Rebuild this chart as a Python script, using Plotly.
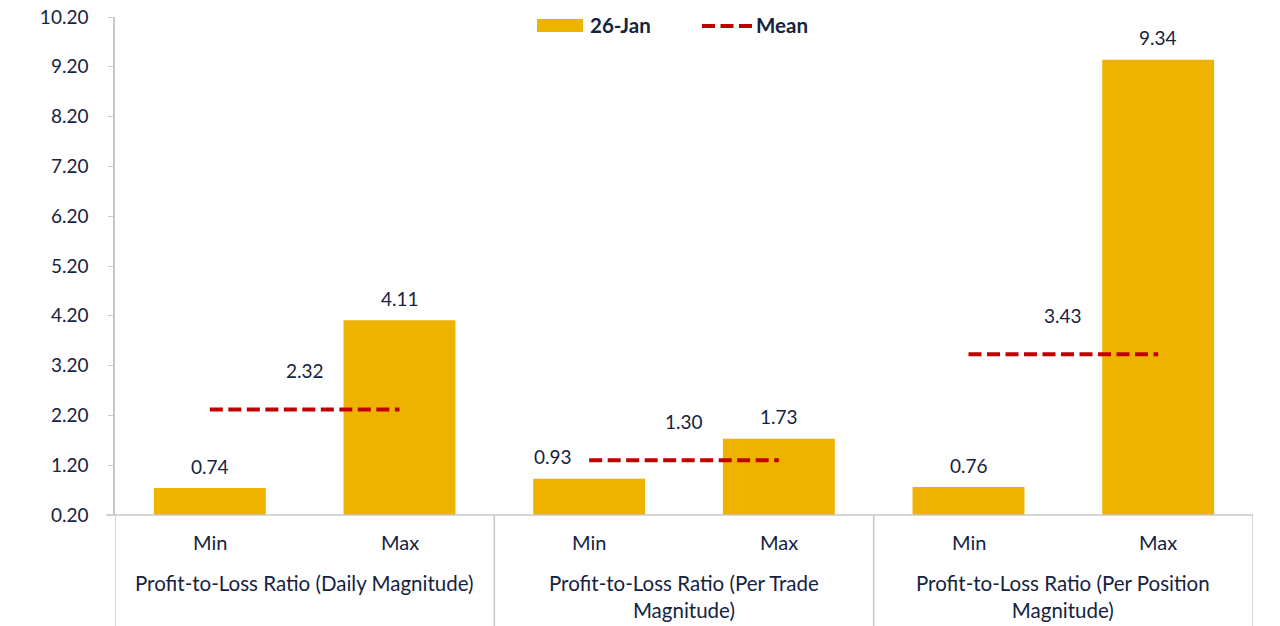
import plotly.graph_objects as go

groups = ["Profit-to-Loss Ratio (Daily Magnitude)",
          "Profit-to-Loss Ratio (Per Trade<br>Magnitude)",
          "Profit-to-Loss Ratio (Per Position<br>Magnitude)"]
sub_labels = ["Min", "Max"]
bar_values = [0.74, 4.11, 0.93, 1.73, 0.76, 9.34]
mean_values = [2.32, 1.30, 3.43]
y_ticks = [0.2 + i for i in range(11)]

FONT = "Lato"
NAVY = "#15233F"
GOLD = "#EEB200"
RED = "#C00000"
GRID = "#C8C8C8"
DASH = "13px,5.5px"

# page body has an 8px margin; compensate so the plot lands where the reference has it
OFF = 8
W, HT = 1280, 626
ML, MT = 115 - OFF, 17 - OFF
PW, H = 1253 - 115, 515 - 17
MR, MB = W - ML - PW, HT - MT - H


def px_x(p):
    return (p - OFF - ML) / PW


def px_y(p):
    return (MT + H - (p - OFF)) / H


label_xshift = [0, 0, -36, 0, 0, 0]

xpos = list(range(len(bar_values)))
fig = go.Figure()
fig.add_trace(go.Bar(
    x=xpos, y=bar_values, base=0, width=0.59, name="26-Jan",
    marker=dict(color=GOLD, line=dict(width=0)), showlegend=False,
))
for i, v in enumerate(bar_values):
    fig.add_annotation(x=i, y=v, xref="x", yref="y", text=f"{v:.2f}",
                       showarrow=False, yshift=22, xshift=label_xshift[i],
                       font=dict(size=19, color=NAVY, family=FONT))
for i, m in enumerate(mean_values):
    fig.add_trace(go.Scatter(
        x=[2 * i, 2 * i + 1], y=[m, m], mode="lines", name="Mean",
        line=dict(color=RED, width=4, dash=DASH), showlegend=False,
    ))
    fig.add_annotation(x=2 * i + 0.5, y=m, xref="x", yref="y", text=f"{m:.2f}",
                       showarrow=False, yshift=39,
                       font=dict(size=19, color=NAVY, family=FONT))

for i, lab in enumerate(sub_labels * 3):
    fig.add_annotation(x=i, y=-27 / H, xref="x", yref="paper", text=lab,
                       showarrow=False, yanchor="middle",
                       font=dict(size=20, color=NAVY, family=FONT))
for i, g in enumerate(groups):
    fig.add_annotation(x=2 * i + 0.5, y=-54 / H, xref="x", yref="paper", text=g,
                       showarrow=False, yanchor="top",
                       font=dict(size=20.5, color=NAVY, family=FONT))

# axis line and group separators
fig.add_shape(type="line", xref="paper", yref="paper", x0=px_x(106), x1=1, y0=0, y1=0,
              line=dict(color=GRID, width=1.5))
for xs in [-0.5, 1.5, 3.5, 5.5]:
    fig.add_shape(type="line", xref="x", yref="paper", x0=xs, x1=xs, y0=0, y1=-(MB - 2) / H,
                  line=dict(color=GRID, width=1.5))

# legend (drawn manually to match the wide swatches)
fig.add_shape(type="rect", xref="paper", yref="paper",
              x0=px_x(537), x1=px_x(583), y0=px_y(32), y1=px_y(19),
              fillcolor=GOLD, line=dict(width=0))
fig.add_annotation(x=px_x(588), y=px_y(25), xref="paper", yref="paper", text="<b>26-Jan</b>",
                   showarrow=False, xanchor="left", yanchor="middle",
                   font=dict(size=20.5, color=NAVY, family=FONT))
fig.add_shape(type="line", xref="paper", yref="paper",
              x0=px_x(702), x1=px_x(752), y0=px_y(26), y1=px_y(26),
              line=dict(color=RED, width=4, dash=DASH))
fig.add_annotation(x=px_x(754), y=px_y(25), xref="paper", yref="paper", text="<b>Mean</b>",
                   showarrow=False, xanchor="left", yanchor="middle",
                   font=dict(size=20.5, color=NAVY, family=FONT))

fig.update_layout(
    width=W, height=HT,
    margin=dict(l=ML, r=MR, t=MT, b=MB, autoexpand=False),
    plot_bgcolor="white", paper_bgcolor="white",
    font=dict(family=FONT, color=NAVY, size=19),
    showlegend=False,
    xaxis=dict(range=[-0.5, 5.5], showticklabels=False, showgrid=False,
               zeroline=False, showline=False, ticks=""),
    yaxis=dict(range=[0.2, 10.2], tickvals=y_ticks, tickformat=".2f",
               showgrid=False, zeroline=False, showline=True, linecolor=GRID,
               linewidth=1.5, ticks="outside", ticklen=5, tickcolor=GRID,
               ticklabelstandoff=16, ticklabeloverflow="allow",
               tickfont=dict(size=19, color=NAVY, family=FONT)),
)
fig.write_html("out.html")
